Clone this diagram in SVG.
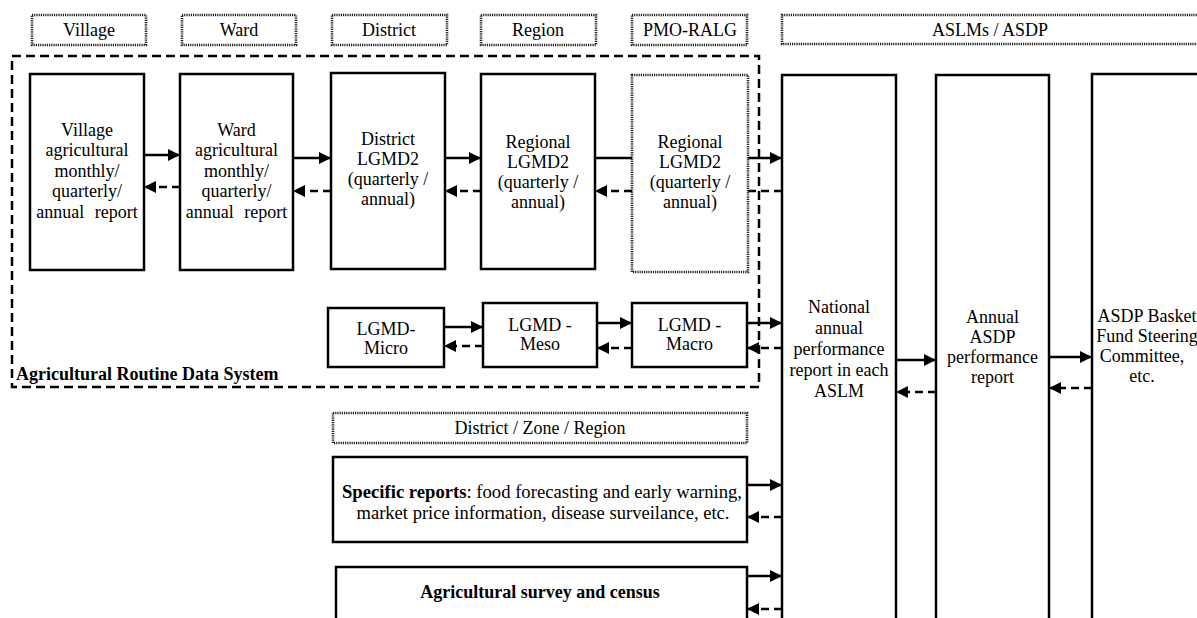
<svg xmlns="http://www.w3.org/2000/svg" width="1197" height="618" viewBox="0 0 1197 618">
<style>
text{font-family:"Liberation Serif","Times New Roman",serif;font-size:18px;fill:#000;text-anchor:middle}
.b{font-weight:bold}
.box{fill:#fff;stroke:#000;stroke-width:2.5}
.dot{fill:#fff;stroke:#222;stroke-width:2.6;stroke-dasharray:1.2 1}
.sys{fill:none;stroke:#000;stroke-width:2.5;stroke-dasharray:9 5}
.s{fill:none;stroke:#000;stroke-width:2.5}
.d{fill:none;stroke:#000;stroke-width:2.5;stroke-dasharray:8 5}
</style>
<defs>
<marker id="ah" viewBox="0 0 12 12" refX="12" refY="6" markerWidth="12" markerHeight="12" markerUnits="userSpaceOnUse" orient="auto">
<path d="M0,0 L12,6 L0,12 z" fill="#000"/>
</marker>
</defs>
<rect width="1197" height="618" fill="#fff"/>

<g id="headers">
<g id="h-village"><rect class="dot" x="32" y="15" width="114" height="30"/><text x="89" y="36">Village</text></g>
<g id="h-ward"><rect class="dot" x="182" y="15" width="114" height="30"/><text x="239" y="36">Ward</text></g>
<g id="h-district"><rect class="dot" x="332" y="15" width="115" height="30"/><text x="389" y="36">District</text></g>
<g id="h-region"><rect class="dot" x="481" y="15" width="115" height="30"/><text x="538" y="36">Region</text></g>
<g id="h-pmo"><rect class="dot" x="632" y="15" width="115" height="30"/><text x="690" y="36">PMO-RALG</text></g>
<g id="h-aslm"><rect class="dot" x="782" y="15" width="430" height="29"/><text x="990" y="36">ASLMs / ASDP</text></g>
<g id="h-dzr"><rect class="dot" x="333" y="413" width="414" height="30"/><text x="540" y="434">District / Zone / Region</text></g>
</g>

<g id="ards">
<rect class="sys" x="12" y="56" width="747" height="331"/>
<text class="b" x="16" y="380" style="text-anchor:start">Agricultural Routine Data System</text>
</g>

<g id="village">
<rect class="box" x="30" y="74" width="114" height="196"/>
<text x="87" y="136">Village</text>
<text x="87" y="156">agricultural</text>
<text x="87" y="177">monthly/</text>
<text x="87" y="197">quarterly/</text>
<text x="87" y="218" word-spacing="6">annual report</text>
</g>
<g id="ward">
<rect class="box" x="180" y="74" width="113" height="196"/>
<text x="236.5" y="136">Ward</text>
<text x="236.5" y="156">agricultural</text>
<text x="236.5" y="177">monthly/</text>
<text x="236.5" y="197">quarterly/</text>
<text x="236.5" y="218" word-spacing="6">annual report</text>
</g>
<g id="district">
<rect class="box" x="331" y="73" width="114" height="196"/>
<text x="388" y="145">District</text>
<text x="388" y="165">LGMD2</text>
<text x="388" y="185">(quarterly /</text>
<text x="388" y="205">annual)</text>
</g>
<g id="regional">
<rect class="box" x="481" y="74" width="114" height="195"/>
<text x="538" y="148">Regional</text>
<text x="538" y="168">LGMD2</text>
<text x="538" y="188">(quarterly /</text>
<text x="538" y="208">annual)</text>
</g>
<g id="pmo-regional">
<rect class="dot" x="632" y="75" width="116" height="197"/>
<text x="690" y="148">Regional</text>
<text x="690" y="168">LGMD2</text>
<text x="690" y="188">(quarterly /</text>
<text x="690" y="208">annual)</text>
</g>
<g id="micro">
<rect class="box" x="328" y="308" width="116" height="59"/>
<text x="386" y="335">LGMD-</text>
<text x="386" y="354">Micro</text>
</g>
<g id="meso">
<rect class="box" x="483" y="303" width="114" height="64"/>
<text x="540" y="331">LGMD -</text>
<text x="540" y="350">Meso</text>
</g>
<g id="macro">
<rect class="box" x="632" y="303" width="115" height="64"/>
<text x="689.5" y="331">LGMD -</text>
<text x="689.5" y="350">Macro</text>
</g>
<g id="national">
<rect class="box" x="782" y="75" width="114" height="580"/>
<text x="839" y="313">National</text>
<text x="839" y="334">annual</text>
<text x="839" y="355">performance</text>
<text x="839" y="376">report in each</text>
<text x="839" y="397">ASLM</text>
</g>
<g id="annual">
<rect class="box" x="936" y="75" width="113" height="580"/>
<text x="992.5" y="323">Annual</text>
<text x="992.5" y="343">ASDP</text>
<text x="992.5" y="363">performance</text>
<text x="992.5" y="383">report</text>
</g>
<g id="basket">
<rect class="box" x="1092" y="74" width="130" height="580"/>
<text x="1147" y="322">ASDP Basket</text>
<text x="1147" y="342">Fund Steering</text>
<text x="1142" y="362">Committee,</text>
<text x="1142" y="382">etc.</text>
</g>
<g id="specific">
<rect class="box" x="333" y="457" width="414" height="85"/>
<text x="542" y="498" textLength="400" lengthAdjust="spacingAndGlyphs"><tspan class="b">Specific reports</tspan>: food forecasting and early warning,</text>
<text x="543" y="519" textLength="373" lengthAdjust="spacingAndGlyphs">market price information, disease surveilance, etc.</text>
</g>
<g id="survey">
<rect class="box" x="336" y="567" width="411" height="80"/>
<text class="b" x="540" y="598">Agricultural survey and census</text>
</g>

<g id="connectors">
<path class="s" d="M144,155 L180,155" marker-end="url(#ah)"/>
<path class="d" d="M180,187 L144,187" marker-end="url(#ah)"/>
<path class="s" d="M293,158 L331,158" marker-end="url(#ah)"/>
<path class="d" d="M331,191 L293,191" marker-end="url(#ah)"/>
<path class="s" d="M445,158 L481,158" marker-end="url(#ah)"/>
<path class="d" d="M481,191 L445,191" marker-end="url(#ah)"/>
<path class="s" d="M595,158 L632,158"/>
<path class="d" d="M632,191 L595,191" marker-end="url(#ah)"/>
<path class="s" d="M748,158 L782,158" marker-end="url(#ah)"/>
<path class="d" d="M782,191 L748,191"/>
<path class="s" d="M444,327 L483,327" marker-end="url(#ah)"/>
<path class="d" d="M483,346 L444,346" marker-end="url(#ah)"/>
<path class="s" d="M597,323 L632,323" marker-end="url(#ah)"/>
<path class="d" d="M632,348 L597,348" marker-end="url(#ah)"/>
<path class="s" d="M747,323 L782,323" marker-end="url(#ah)"/>
<path class="d" d="M782,348 L747,348" marker-end="url(#ah)"/>
<path class="s" d="M896,360 L936,360" marker-end="url(#ah)"/>
<path class="d" d="M936,392 L896,392" marker-end="url(#ah)"/>
<path class="s" d="M1049,357 L1092,357" marker-end="url(#ah)"/>
<path class="d" d="M1092,388 L1049,388" marker-end="url(#ah)"/>
<path class="s" d="M747,485 L782,485" marker-end="url(#ah)"/>
<path class="d" d="M782,517 L747,517" marker-end="url(#ah)"/>
<path class="s" d="M747,576 L782,576" marker-end="url(#ah)"/>
<path class="d" d="M782,609 L747,609" marker-end="url(#ah)"/>
</g>
</svg>
